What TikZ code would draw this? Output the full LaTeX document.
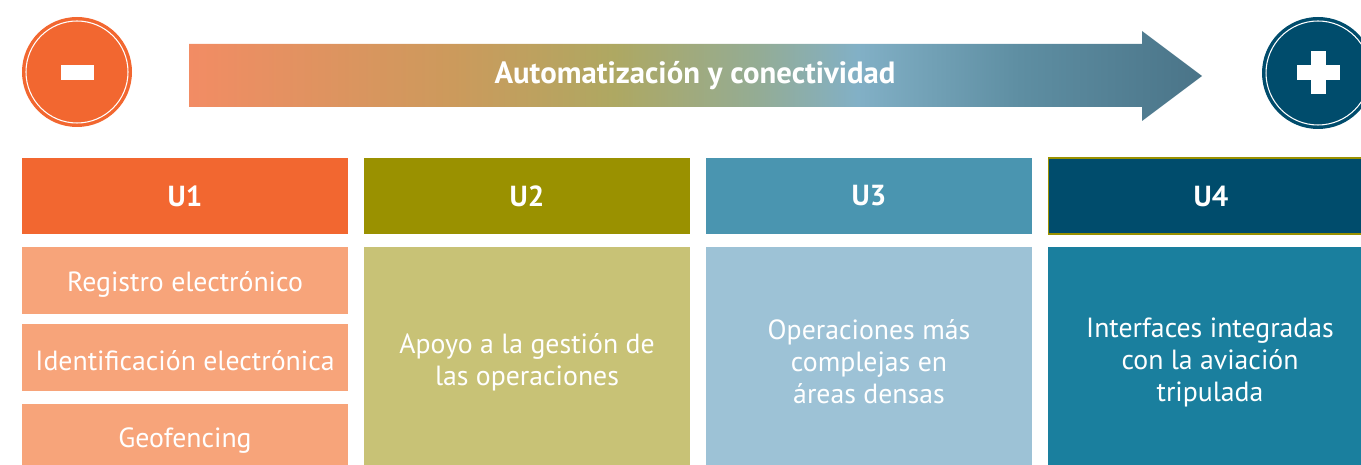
\documentclass[tikz,border=0pt]{standalone}
\usepackage{fontspec}
\setmainfont{PT Sans}
\usetikzlibrary{positioning,calc}

\definecolor{uone}{HTML}{F26730}
\definecolor{uonelight}{HTML}{F7A47A}
\definecolor{utwo}{HTML}{9A9100}
\definecolor{utwolight}{HTML}{C8C276}
\definecolor{uthree}{HTML}{4A95B0}
\definecolor{uthreelight}{HTML}{9DC2D6}
\definecolor{ufour}{HTML}{004C6C}
\definecolor{ufourlight}{HTML}{1A7F9E}
\definecolor{ga}{HTML}{F28C64}
\definecolor{gb}{HTML}{CC9A5C}
\definecolor{gc}{HTML}{AEA862}
\definecolor{gd}{HTML}{94AC94}
\definecolor{ge}{HTML}{82B0C6}
\definecolor{gf}{HTML}{5E8EA2}
\definecolor{gg}{HTML}{4A7488}

\pgfdeclarehorizontalshading{autograd}{100bp}{color(0bp)=(ga); color(25bp)=(ga);
  color(38bp)=(gb); color(46bp)=(gc); color(53bp)=(gd); color(58bp)=(ge);
  color(66bp)=(gf); color(75bp)=(gg); color(100bp)=(gg)}

\tikzset{
  headbox/.style={fill=#1, text=white, font=\fontsize{16.5}{18}\selectfont\bfseries,
    minimum width=6.52cm, minimum height=1.52cm, inner sep=0pt},
  bodytext/.style={text=white, font=\fontsize{15.8}{18.2}\selectfont, align=center},
}

\begin{document}
\begin{tikzpicture}[x=0.02cm, y=-0.02cm]
    \useasboundingbox (0,0) rectangle (1361,465);

    \fill[uone] (77,72) circle (55);
    \draw[white, line width=0.6pt] (77,72) circle (51);
    \fill[white] (61,65) rectangle (94,80);

    \fill[ufour] (1318,73) circle (56);
    \draw[white, line width=0.6pt] (1318,73) circle (52);
    \fill[white] (1297,65) rectangle (1340,80);
    \fill[white] (1311,51) rectangle (1326,94);

    \shade[shading=autograd] (189,44) -- (1142,44) -- (1142,31) -- (1202,76)
      -- (1142,121) -- (1142,107) -- (189,107) -- cycle;
    \node[text=white, font=\fontsize{17.5}{19}\selectfont\bfseries] (trend) at (695,76)
      {Automatización y conectividad};

    \node[headbox=uone] (u1) at (185,196) {U1};
    \node[headbox=utwo] (u2) at (527,196) {U2};
    \node[headbox=uthree] (u3) at (869,196) {U3};
    \node[headbox=ufour, draw=utwo, line width=0.6pt] (u4) at (1211,196) {U4};

    \fill[uonelight] (22,247) rectangle (348,314);
    \fill[uonelight] (22,324) rectangle (348,391);
    \fill[uonelight] (22,404) rectangle (348,465);
    \fill[utwolight] (364,247) rectangle (690,465);
    \fill[uthreelight] (706,247) rectangle (1032,465);
    \fill[ufourlight] (1048,247) rectangle (1374,465);

    \node[bodytext] (reg) at (185,284) {Registro electrónico};
    \node[bodytext] (ident) at (185,361) {Identificación electrónica};
    \node[bodytext] (geo) at (185,441) {Geofencing};
    \node[bodytext] (apoyo) at (527,362) {Apoyo a la gestión de\\las operaciones};
    \node[bodytext] (oper) at (869,362) {Operaciones más\\complejas en\\áreas densas};
    \node[bodytext] (inter) at (1210,362) {Interfaces integradas\\con la aviación\\tripulada};
  \end{tikzpicture}
\end{document}
